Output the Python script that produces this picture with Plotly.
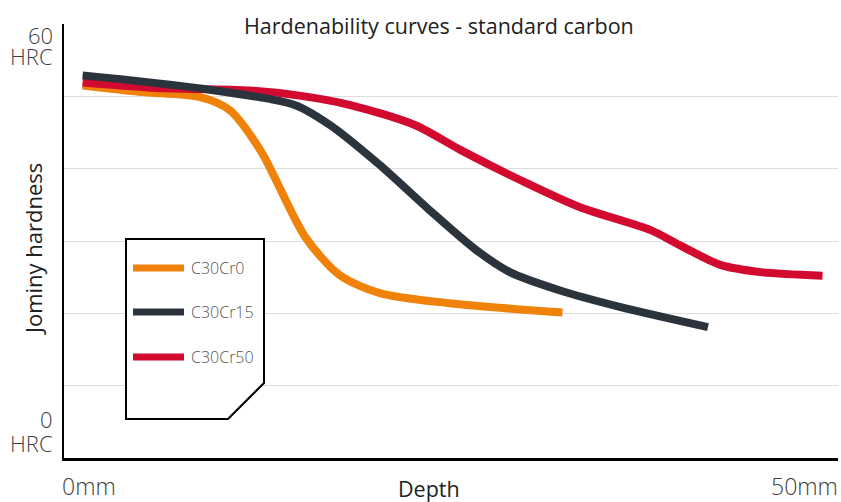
import plotly.graph_objects as go

# Data (depth in mm, hardness in HRC)
c30cr0_x = [1.2, 5.0, 8.8, 10.7, 12.7, 15.6, 17.8, 20.4, 24.9, 32.2]
c30cr0_y = [51.5, 50.6, 49.9, 48.1, 42.5, 30.5, 25.3, 22.8, 21.4, 20.1]

c30cr15_x = [1.2, 8.8, 14.9, 17.2, 20.4, 23.6, 26.6, 28.8, 32.0, 35.9, 41.6]
c30cr15_y = [52.9, 51.1, 48.8, 46.0, 40.5, 34.3, 28.8, 25.7, 23.2, 20.9, 18.1]

c30cr50_x = [1.2, 5.6, 12.0, 15.2, 18.5, 22.7, 25.6, 29.5, 33.3, 37.9, 39.8, 42.4, 45.0, 49.0]
c30cr50_y = [51.9, 51.2, 50.8, 50.1, 48.8, 46.0, 42.6, 38.4, 34.7, 31.5, 29.4, 26.7, 25.7, 25.2]

series_names = ["C30Cr0", "C30Cr15", "C30Cr50"]
series_colors = ["#F0820A", "#2B343D", "#D20A30"]
grid_vals = [10, 20, 30, 40, 50]

W, H = 841, 502
L, R, T, B = 64, 3, 24, 44
PW, PH = W - L - R, H - T - B

def px(x):
    return (x - L) / PW

def py(y):
    return (H - B - y) / PH

fig = go.Figure()
traces = {}
for xs, ys, name, col in zip([c30cr0_x, c30cr15_x, c30cr50_x],
                             [c30cr0_y, c30cr15_y, c30cr50_y],
                             series_names, series_colors):
    traces[name] = go.Scatter(x=xs, y=ys, mode="lines", name=name,
                              line=dict(color=col, width=8, shape="spline", smoothing=0.8),
                              showlegend=False, hoverinfo="skip")
for name in ["C30Cr0", "C30Cr50", "C30Cr15"]:
    fig.add_trace(traces[name])

font = "Open Sans"
txt = "#404040"

shapes = []
# legend box with cut corner
pts = [(126, 239), (264, 239), (264, 383), (228, 419), (126, 419)]
path = "M " + " L ".join(f"{px(a):.5f},{py(b):.5f}" for a, b in pts) + " Z"
shapes.append(dict(type="path", xref="paper", yref="paper", path=path,
                   line=dict(color="black", width=2), fillcolor="white", layer="above"))
annotations = []
for i, (name, col) in enumerate(zip(series_names, series_colors)):
    yy = [268, 312, 357][i]
    shapes.append(dict(type="line", xref="paper", yref="paper",
                       x0=px(133), x1=px(184), y0=py(yy), y1=py(yy),
                       line=dict(color=col, width=7), layer="above"))
    annotations.append(dict(text=name, xref="paper", yref="paper", x=px(189), y=py(yy),
                            xanchor="left", yanchor="middle", showarrow=False,
                            font=dict(family=font, size=16, color="#555555", weight=300)))

def ann(text, x, y, xa, ya, size, color=txt, angle=0, weight=400, height=None):
    a = dict(text=text, xref="paper", yref="paper", x=px(x), y=py(y),
             xanchor=xa, yanchor=ya, showarrow=False, textangle=angle,
             font=dict(family=font, size=size, color=color, weight=weight))
    if height:
        a["height"] = height
        a["valign"] = "middle"
    annotations.append(a)

ann("60", 55, 35, "right", "middle", 22, weight=300, height=20)
ann("HRC", 55, 56, "right", "middle", 22, weight=300, height=20)
ann("0", 55, 419, "right", "middle", 22, weight=300, height=20)
ann("HRC", 55, 443, "right", "middle", 22, weight=300, height=20)
ann("0mm", 60, 486, "left", "middle", 23, weight=300)
ann("50mm", 840, 486, "right", "middle", 23, weight=300)
ann("Depth", 429, 488, "center", "middle", 21.5, "#222222")
ann("Jominy hardness", 33, 249, "center", "middle", 22, "#222222", -90)
ann("Hardenability curves - standard carbon", 439, 25, "center", "middle", 21.5, "#222222")

fig.update_layout(
    width=W, height=H,
    margin=dict(l=L, r=R, t=T, b=B),
    paper_bgcolor="white", plot_bgcolor="white",
    xaxis=dict(range=[0, 50], showgrid=False, zeroline=False, showticklabels=False,
               ticks="", showline=True, linecolor="black", linewidth=3, fixedrange=True),
    yaxis=dict(range=[0, 60], tickvals=grid_vals, showticklabels=False, ticks="",
               showgrid=True, gridcolor="#DDDDDD", gridwidth=1, zeroline=False,
               showline=True, linecolor="black", linewidth=2, fixedrange=True),
    shapes=shapes, annotations=annotations,
)

fig.write_html("out.html", config={"displayModeBar": False},
               post_script="document.body.style.margin='0';")
